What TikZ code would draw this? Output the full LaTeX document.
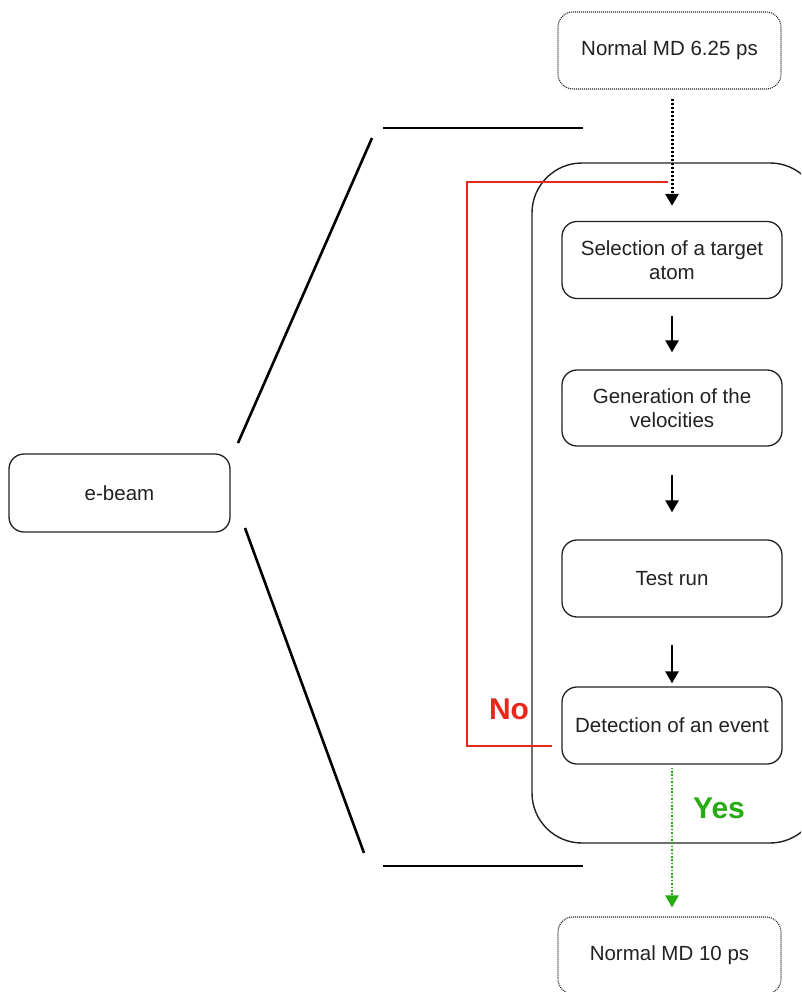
\documentclass[tikz,border=0pt]{standalone}
\usepackage{fontspec}
\setmainfont{Liberation Sans}
\usetikzlibrary{arrows.meta}
\definecolor{nored}{RGB}{235,38,28}
\definecolor{yesgreen}{RGB}{38,172,18}
\definecolor{ink}{RGB}{34,34,34}
\begin{document}
\begin{tikzpicture}[x=1pt,y=-1pt,
  box/.style={draw=ink, line width=1.3pt, rounded corners=15pt, minimum width=220pt, minimum height=77pt, align=center, text=ink, font=\fontsize{20.5}{24}\selectfont, inner sep=0pt},
  mdbox/.style={box, line width=1.1pt, dash pattern=on 1pt off 1pt, minimum width=223pt},
  flow/.style={draw=black, line width=2.6pt, -{Triangle[length=12pt,width=13pt]}},
  dotflow/.style={line width=3pt, dash pattern=on 2pt off 2pt, -{Triangle[length=12pt,width=13pt]}},
  bracket/.style={draw=black, line width=2.6pt},
  answer/.style={font=\fontsize{30}{34}\selectfont\bfseries, inner sep=0pt}]
\useasboundingbox (0,0) rectangle (801,992);
\clip (0,0) rectangle (801,992);
\fill[white] (0,0) rectangle (801,992);

% group frame
\draw[draw=ink, line width=1.4pt, rounded corners=50pt] (532,163) rectangle (820,843);

% nodes
\node[mdbox] (top) at (669.5,50.5) {Normal MD 6.25 ps};
\node[box] (sel) at (672,260) {Selection of a target\\atom};
\node[box, minimum height=76pt] (gen) at (672,408) {Generation of the\\velocities};
\node[box] (test) at (672,578.5) {Test run};
\node[box] (det) at (672,725.5) {Detection of an event};
\node[mdbox] (bot) at (669.5,955.5) {Normal MD 10 ps};
\node[box, minimum width=221pt, minimum height=78pt] (ebeam) at (119.5,493) {e-beam};

% connectors
\draw[dotflow, draw=black, fill=black, shorten <=9pt, shorten >=15pt] (top.south -| sel.north) -- (sel.north);
\draw[flow, shorten <=17pt, shorten >=17pt] (sel.south) -- (gen.north);
\draw[flow, shorten <=28pt, shorten >=27pt] (gen.south) -- (test.north);
\draw[flow, shorten <=27pt, shorten >=3pt] (test.south) -- (det.north);
\draw[dotflow, line width=2.4pt, draw=yesgreen, fill=yesgreen, dash pattern=on 1.6pt off 1.8pt, shorten <=3pt, shorten >=9pt] (det.south) -- (bot.north -| det.south);

% No loop
\coordinate (noend) at (552,746);
\coordinate (nostart) at (668,182);
\draw[draw=nored, line width=2.6pt] (noend) -- ++(-85,0) |- (nostart);
\node[answer, text=nored] (no) at (509,709) {No};
\node[answer, text=yesgreen] (yes) at (719,808) {Yes};

% brackets
\draw[bracket] (238,443) -- (372,138);
\draw[bracket] (383,128) -- (583,128);
\draw[bracket] (245,528) -- (364,853);
\draw[bracket] (383,866) -- (583,866);
\end{tikzpicture}
\end{document}
